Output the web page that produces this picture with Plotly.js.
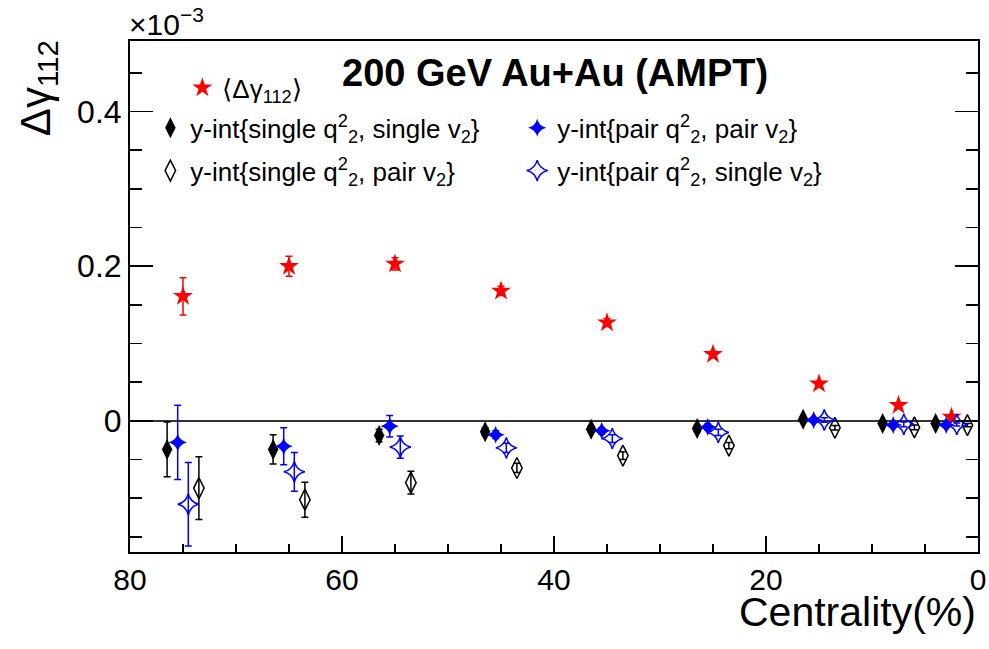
<!DOCTYPE html>
<html>
<head>
<meta charset="utf-8">
<script src="https://cdn.plot.ly/plotly-3.0.1.min.js"></script>
<style>html,body{margin:0;padding:0;background:#fff;}#chart{width:989px;height:649px;}</style>
</head>
<body>
<div id="chart"></div>
<script>
// Values in units of 1e-3
const centMean = [75, 65, 55, 45, 35, 25, 15, 7.5, 2.5];
const gammaMean = [0.161, 0.200, 0.203, 0.168, 0.127, 0.086, 0.048, 0.020, 0.005];
const gammaMeanErr = [0.024, 0.013, 0.008, 0.006, 0.005, 0.004, 0.003, 0.003, 0.002];

const centSS = [76.5, 66.5, 56.5, 46.5, 36.5, 26.5, 16.5, 9, 4];
const yintSS = [-0.037, -0.037, -0.019, -0.014, -0.011, -0.010, 0.002, -0.0035, -0.0035];
const yintSSErr = [0.0355, 0.019, 0.008, 0.005, 0.004, 0.004, 0.003, 0.003, 0.002];

const centPP = [75.5, 65.5, 55.5, 45.5, 35.5, 25.5, 15.5, 8, 3];
const yintPP = [-0.028, -0.033, -0.007, -0.018, -0.013, -0.008, 0.001, -0.0055, -0.0055];
const yintPPErr = [0.048, 0.024, 0.014, 0.005, 0.004, 0.004, 0.003, 0.003, 0.002];

const centPS = [74.5, 64.5, 54.5, 44.5, 34.5, 24.5, 14.5, 7, 2];
const yintPS = [-0.108, -0.066, -0.034, -0.035, -0.023, -0.015, 0.001, -0.0047, -0.0047];
const yintPSErr = [0.054, 0.025, 0.0145, 0.006, 0.005, 0.004, 0.003, 0.003, 0.002];

const centSP = [73.5, 63.5, 53.5, 43.5, 33.5, 23.5, 13.5, 6, 1];
const yintSP = [-0.087, -0.102, -0.080, -0.061, -0.045, -0.032, -0.009, -0.0085, -0.0056];
const yintSPErr = [0.0405, 0.0226, 0.0146, 0.006, 0.005, 0.004, 0.003, 0.003, 0.002];

const labels = {
  mean: '\u27E8\u0394\u03B3<sub>112</sub>\u27E9',
  ss: 'y-int{single q<sup>2</sup><sub>2</sub>, single v<sub>2</sub>}',
  sp: 'y-int{single q<sup>2</sup><sub>2</sub>, pair v<sub>2</sub>}',
  pp: 'y-int{pair q<sup>2</sup><sub>2</sub>, pair v<sub>2</sub>}',
  ps: 'y-int{pair q<sup>2</sup><sub>2</sub>, single v<sub>2</sub>}'
};

const RED = '#ff0000', BLUE = '#0000ff', BLACK = '#000000';
const FONT = 'Liberation Sans, Arial, sans-serif';
function errs(arr, color) {
  return {type: 'data', array: arr, visible: true, color: color, thickness: 1.5, width: 3.5};
}

const traces = [
  {x: centMean, y: gammaMean, error_y: errs(gammaMeanErr, RED), name: labels.mean, legend: 'legend',
   mode: 'markers', type: 'scatter', marker: {symbol: 'star', size: 15, color: RED}},
  {x: centSS, y: yintSS, error_y: errs(yintSSErr, BLACK), name: labels.ss, legend: 'legend2', legendgroup: 'g1',
   mode: 'markers', type: 'scatter', marker: {symbol: 'diamond-tall', size: 15, color: BLACK}},
  {x: centSP, y: yintSP, error_y: errs(yintSPErr, BLACK), name: labels.sp, legend: 'legend2', legendgroup: 'g2',
   mode: 'markers', type: 'scatter', marker: {symbol: 'diamond-tall-open', size: 15, color: BLACK, line: {width: 1.5, color: BLACK}}},
  {x: centPP, y: yintPP, error_y: errs(yintPPErr, BLUE), name: labels.pp, legend: 'legend3', legendgroup: 'g3',
   mode: 'markers', type: 'scatter', marker: {symbol: 'star-diamond', size: 13, color: BLUE}},
  {x: centPS, y: yintPS, error_y: errs(yintPSErr, BLUE), name: labels.ps, legend: 'legend3', legendgroup: 'g4',
   mode: 'markers', type: 'scatter', marker: {symbol: 'star-diamond-open', size: 15, color: BLUE, line: {width: 1.5, color: BLUE}}}
];

const legendFont = {family: FONT, size: 26, color: '#000'};
const layout = {
  width: 989, height: 649,
  margin: {l: 130, r: 11, t: 41, b: 97},
  paper_bgcolor: '#fff', plot_bgcolor: '#fff',
  showlegend: true,
  xaxis: {
    range: [80, 0], dtick: 20, tick0: 0,
    ticks: 'inside', ticklen: 16, tickwidth: 1.5, tickcolor: '#000',
    minor: {dtick: 5, ticks: 'inside', ticklen: 8, tickwidth: 1.5, tickcolor: '#000'},
    showline: true, linecolor: '#000', linewidth: 2, mirror: true,
    showgrid: false, zeroline: false,
    tickfont: {family: FONT, size: 30, color: '#000'}
  },
  yaxis: {
    range: [-0.1697, 0.4913], dtick: 0.2, tick0: 0,
    ticks: 'inside', ticklen: 23, tickwidth: 1.5, tickcolor: '#000',
    minor: {dtick: 0.05, ticks: 'inside', ticklen: 12, tickwidth: 1.5, tickcolor: '#000'},
    showline: true, linecolor: '#000', linewidth: 2, mirror: 'ticks',
    showgrid: false,
    zeroline: true, zerolinecolor: '#333', zerolinewidth: 1.5,
    tickfont: {family: FONT, size: 32, color: '#000'}
  },
  legend: {x: 0.0617, y: 0.9545, xanchor: 'left', yanchor: 'top', bgcolor: 'rgba(0,0,0,0)', font: legendFont},
  legend2: {x: 0.024, y: 0.876, xanchor: 'left', yanchor: 'top', bgcolor: 'rgba(0,0,0,0)', font: legendFont, tracegroupgap: 6},
  legend3: {x: 0.4566, y: 0.876, xanchor: 'left', yanchor: 'top', bgcolor: 'rgba(0,0,0,0)', font: legendFont, tracegroupgap: 6},
  annotations: [
    {text: '<b>200 GeV Au+Au (AMPT)</b>', xref: 'paper', yref: 'paper', x: 0.5015, y: 0.9368,
     xanchor: 'center', yanchor: 'middle', showarrow: false,
     font: {family: FONT, size: 38, color: '#000'}},
    {text: '\u0394\u03B3<sub>112</sub>', xref: 'paper', yref: 'paper', x: -0.108, y: 0.9085,
     xanchor: 'center', yanchor: 'middle', showarrow: false, textangle: -90,
     font: {family: FONT, size: 42, color: '#000'}},
    {text: '\u00D710<sup>\u22123</sup>', xref: 'paper', yref: 'paper', x: 0.0428, y: 1.037,
     xanchor: 'center', yanchor: 'middle', showarrow: false,
     font: {family: FONT, size: 30, color: '#000'}},
    {text: 'Centrality(%)', xref: 'paper', yref: 'paper', x: 0.9995, y: -0.118,
     xanchor: 'right', yanchor: 'middle', showarrow: false,
     font: {family: FONT, size: 41, color: '#000'}}
  ]
};

Plotly.newPlot('chart', traces, layout, {displayModeBar: false, staticPlot: true});
</script>
</body>
</html>
